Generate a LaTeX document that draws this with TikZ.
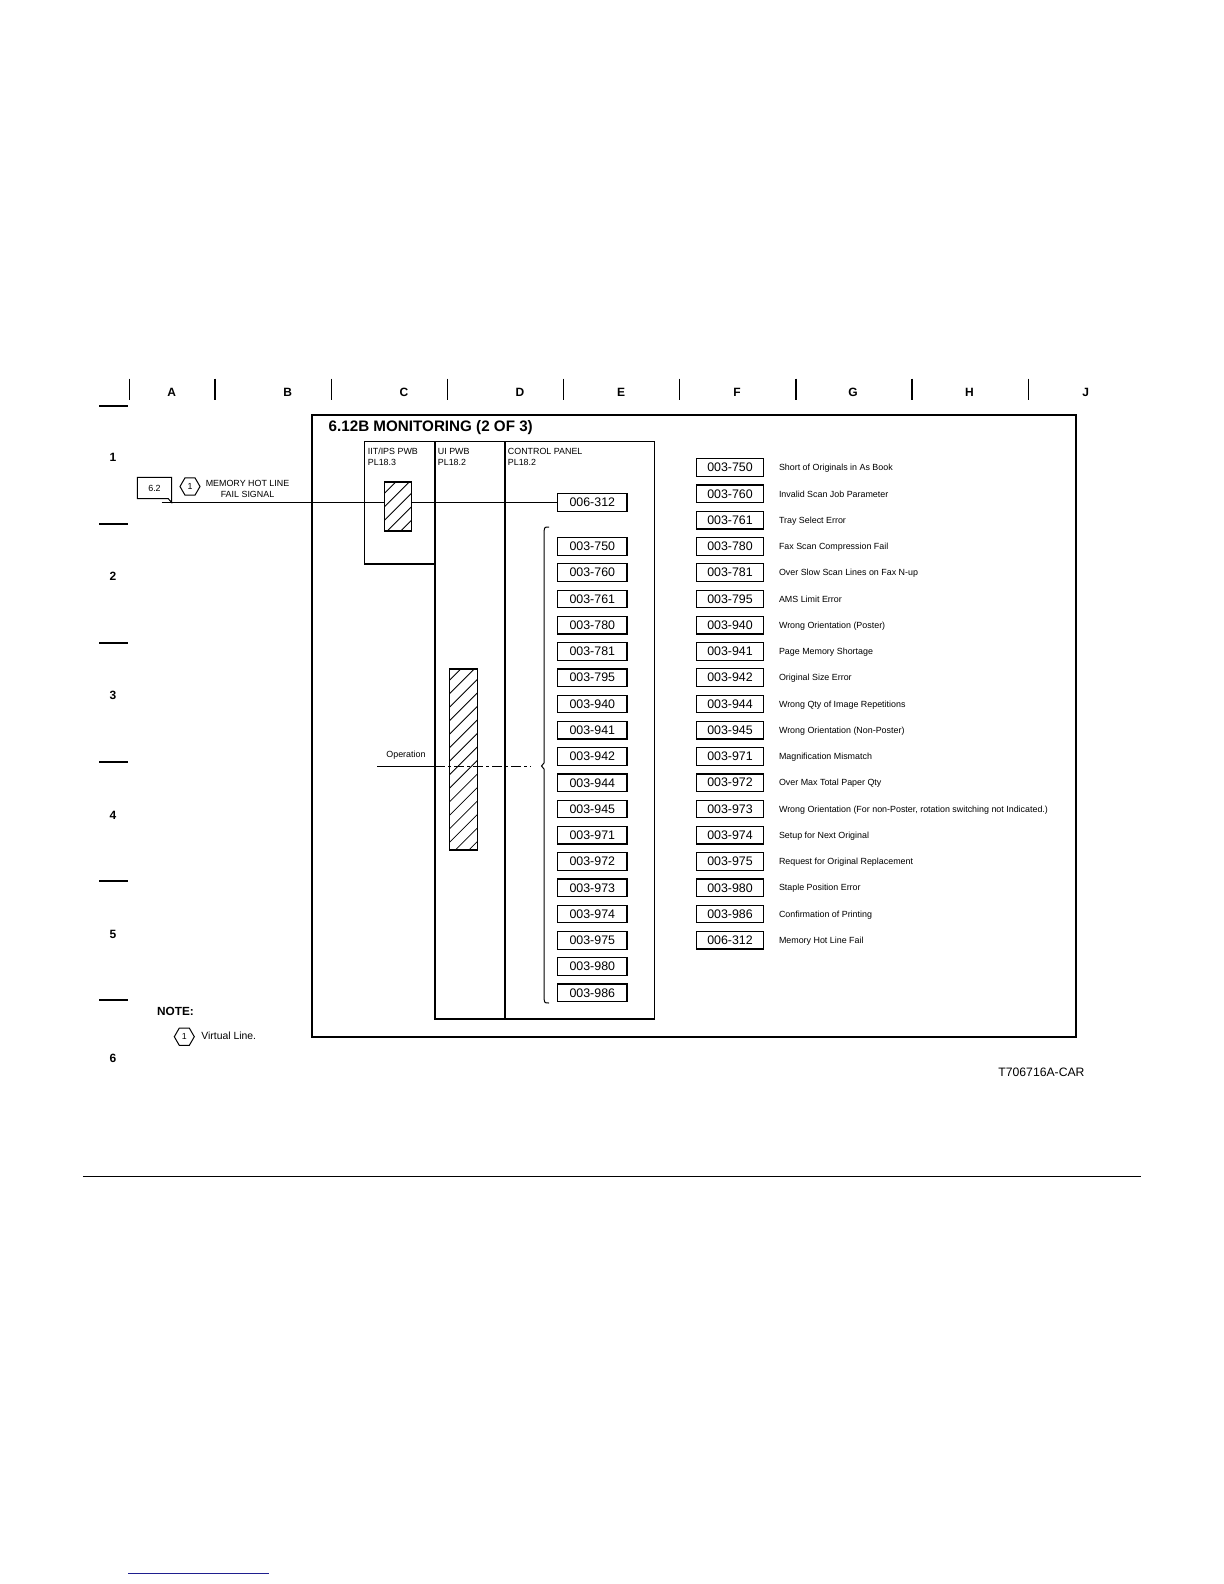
\documentclass[tikz,border=0pt]{standalone}
\usepackage{fontspec}
\setmainfont{Liberation Sans}
\usetikzlibrary{shapes.geometric}
\definecolor{linkblue}{HTML}{1F1F8F}
% hatched block: x1,y1,x2,y2 (px)
\newcommand{\hatchrect}[4]{%
  \fill[white] (#1,#2) rectangle (#3,#4);
  \begin{scope}
    \clip (#1,#2) rectangle (#3,#4);
    \foreach \k in {-2,11.5,...,300} \draw[line width=0.4pt] (#1,#2+\k) -- ++(120,-120);
  \end{scope}
  \draw[line width=0.6pt] (#1,#2) rectangle (#3,#4);}

\begin{document}
\begin{tikzpicture}[x=0.5pt,y=-0.5pt,every node/.style={inner sep=0pt},
  tiny/.style={font=\fontsize{4.45}{5.6}\selectfont},
  codebox/.style={draw,line width=0.6pt,minimum width=34.75pt,minimum height=8.8pt,font=\fontsize{6.2}{7}\selectfont},
  listbox/.style={codebox,minimum width=33.5pt},
  hexmark/.style={draw,line width=0.5pt,regular polygon,regular polygon sides=6,minimum size=10pt,font=\fontsize{4.4}{5}\selectfont},
  gridlbl/.style={font=\bfseries\fontsize{6}{7}\selectfont},
  dashdot/.style={dash pattern=on 5pt off 1.5pt on 1.5pt off 1.5pt}]
\useasboundingbox (0,0) rectangle (1224,1584);
% zone grid
\foreach \x in {129.3,215.1,331.3,447.4,563.6,679.7,795.9,912,1028.2}
  \draw[line width=0.7pt] (\x,378.7) -- (\x,400);
\foreach \l/\x in {A/171.7,B/287.8,C/404,D/520,E/621,F/737,G/853,H/969.5,J/1085.6}
  \node[gridlbl] at (\x,392) {\l};
\foreach \y in {406,524,643,762,881,1000}
  \draw[line width=0.7pt] (99,\y) -- (128,\y);
\foreach \n/\y in {1/457.5,2/576.7,3/695.8,4/815,5/934,6/1058.5}
  \node[gridlbl] at (113,\y) {\n};
% frame
\draw[line width=1pt] (312,415) rectangle (1076,1037);
\node[font=\bfseries\fontsize{7.6}{9}\selectfont,anchor=base west] (title) at (328.3,431.5) {6.12B MONITORING (2 OF 3)};
% boards
\draw[line width=0.7pt] (364.6,441.4) rectangle (435,564);
\draw[line width=0.7pt] (435,441.4) rectangle (654.5,1019);
\draw[line width=0.7pt] (505,441.4) -- (505,1019);
\node[tiny,align=left,anchor=north west] (iit) at (367.5,447.5) {IIT/IPS PWB\\PL18.3};
\node[tiny,align=left,anchor=north west] (uipwb) at (437.5,447.5) {UI PWB\\PL18.2};
\node[tiny,align=left,anchor=north west] (cpanel) at (507.5,447.5) {CONTROL PANEL\\PL18.2};
% memory hot line signal
\node[tiny] (ref62) at (154.5,488) {6.2};
\draw[line width=0.5pt] (137.3,477.3) -- (171.7,477.3) -- (171.7,502.5) -- (168.3,498.7) -- (137.3,498.7) -- cycle;
\node[hexmark] (hex1) at (190,486.5) {1};
\node[tiny,align=center,anchor=north] (hotlbl) at (247.5,479.5) {MEMORY HOT LINE\\FAIL SIGNAL};
\node[codebox] (cp312) at (592.3,502.5) {006-312};
\coordinate (hotstart) at (161.7,502.5);
\draw[line width=0.5pt] (hotstart) -- (cp312.west);
\hatchrect{384.3}{482}{411.7}{531}
% control panel codes
\foreach \c [count=\i from 0] in {003-750,003-760,003-761,003-780,003-781,003-795,003-940,003-941,003-942,003-944,003-945,003-971,003-972,003-973,003-974,003-975,003-980,003-986}
  \node[codebox] (cp\i) at (592.3,{546.4+\i*26.26}) {\c};
\draw[line width=0.5pt] (549,527) .. controls (544.5,527) .. (544,532) -- (544,763) -- (541.5,766) -- (544,769) -- (544,998) .. controls (544.5,1003) .. (549,1003);
% operation
\hatchrect{449.3}{669}{477.3}{850}
\node[tiny,anchor=base west] (oplbl) at (386,757) {Operation};
\coordinate (opstart) at (377,766);
\coordinate (opdash) at (435,766);
\coordinate (opend) at (531,766);
\draw[line width=0.5pt] (opstart) -- (opdash);
\draw[line width=0.5pt,dashdot] (opdash) -- (opend);
% fault list
\foreach \c/\t [count=\i from 0] in {003-750/Short of Originals in As Book,003-760/Invalid Scan Job Parameter,003-761/Tray Select Error,003-780/Fax Scan Compression Fail,003-781/Over Slow Scan Lines on Fax N-up,003-795/AMS Limit Error,003-940/Wrong Orientation (Poster),003-941/Page Memory Shortage,003-942/Original Size Error,003-944/Wrong Qty of Image Repetitions,003-945/Wrong Orientation (Non-Poster),003-971/Magnification Mismatch,003-972/Over Max Total Paper Qty,{003-973/Wrong Orientation (For non-Poster, rotation switching not Indicated.)},003-974/Setup for Next Original,003-975/Request for Original Replacement,003-980/Staple Position Error,003-986/Confirmation of Printing,006-312/Memory Hot Line Fail} {
  \node[listbox] (err\i) at (730,{467.6+\i*26.26}) {\c};
  \node[tiny,anchor=base west] (desc\i) at (778.6,{470.8+\i*26.26}) {\t};
}
% note
\node[font=\bfseries\fontsize{5.9}{7}\selectfont,anchor=base west] (note) at (156.7,1015.3) {NOTE:};
\node[hexmark] (hex2) at (184.3,1036.7) {1};
\node[font=\fontsize{5.2}{6}\selectfont,anchor=base west] (virt) at (201,1039.7) {Virtual Line.};
\node[font=\fontsize{6.1}{7}\selectfont,anchor=base west] (figid) at (998,1076.9) {T706716A-CAR};
% page rules
\draw[line width=0.75pt] (82.8,1176.5) -- (1141,1176.5);
\draw[line width=0.7pt,linkblue] (128,1573.5) -- (268.6,1573.5);
\end{tikzpicture}
\end{document}
